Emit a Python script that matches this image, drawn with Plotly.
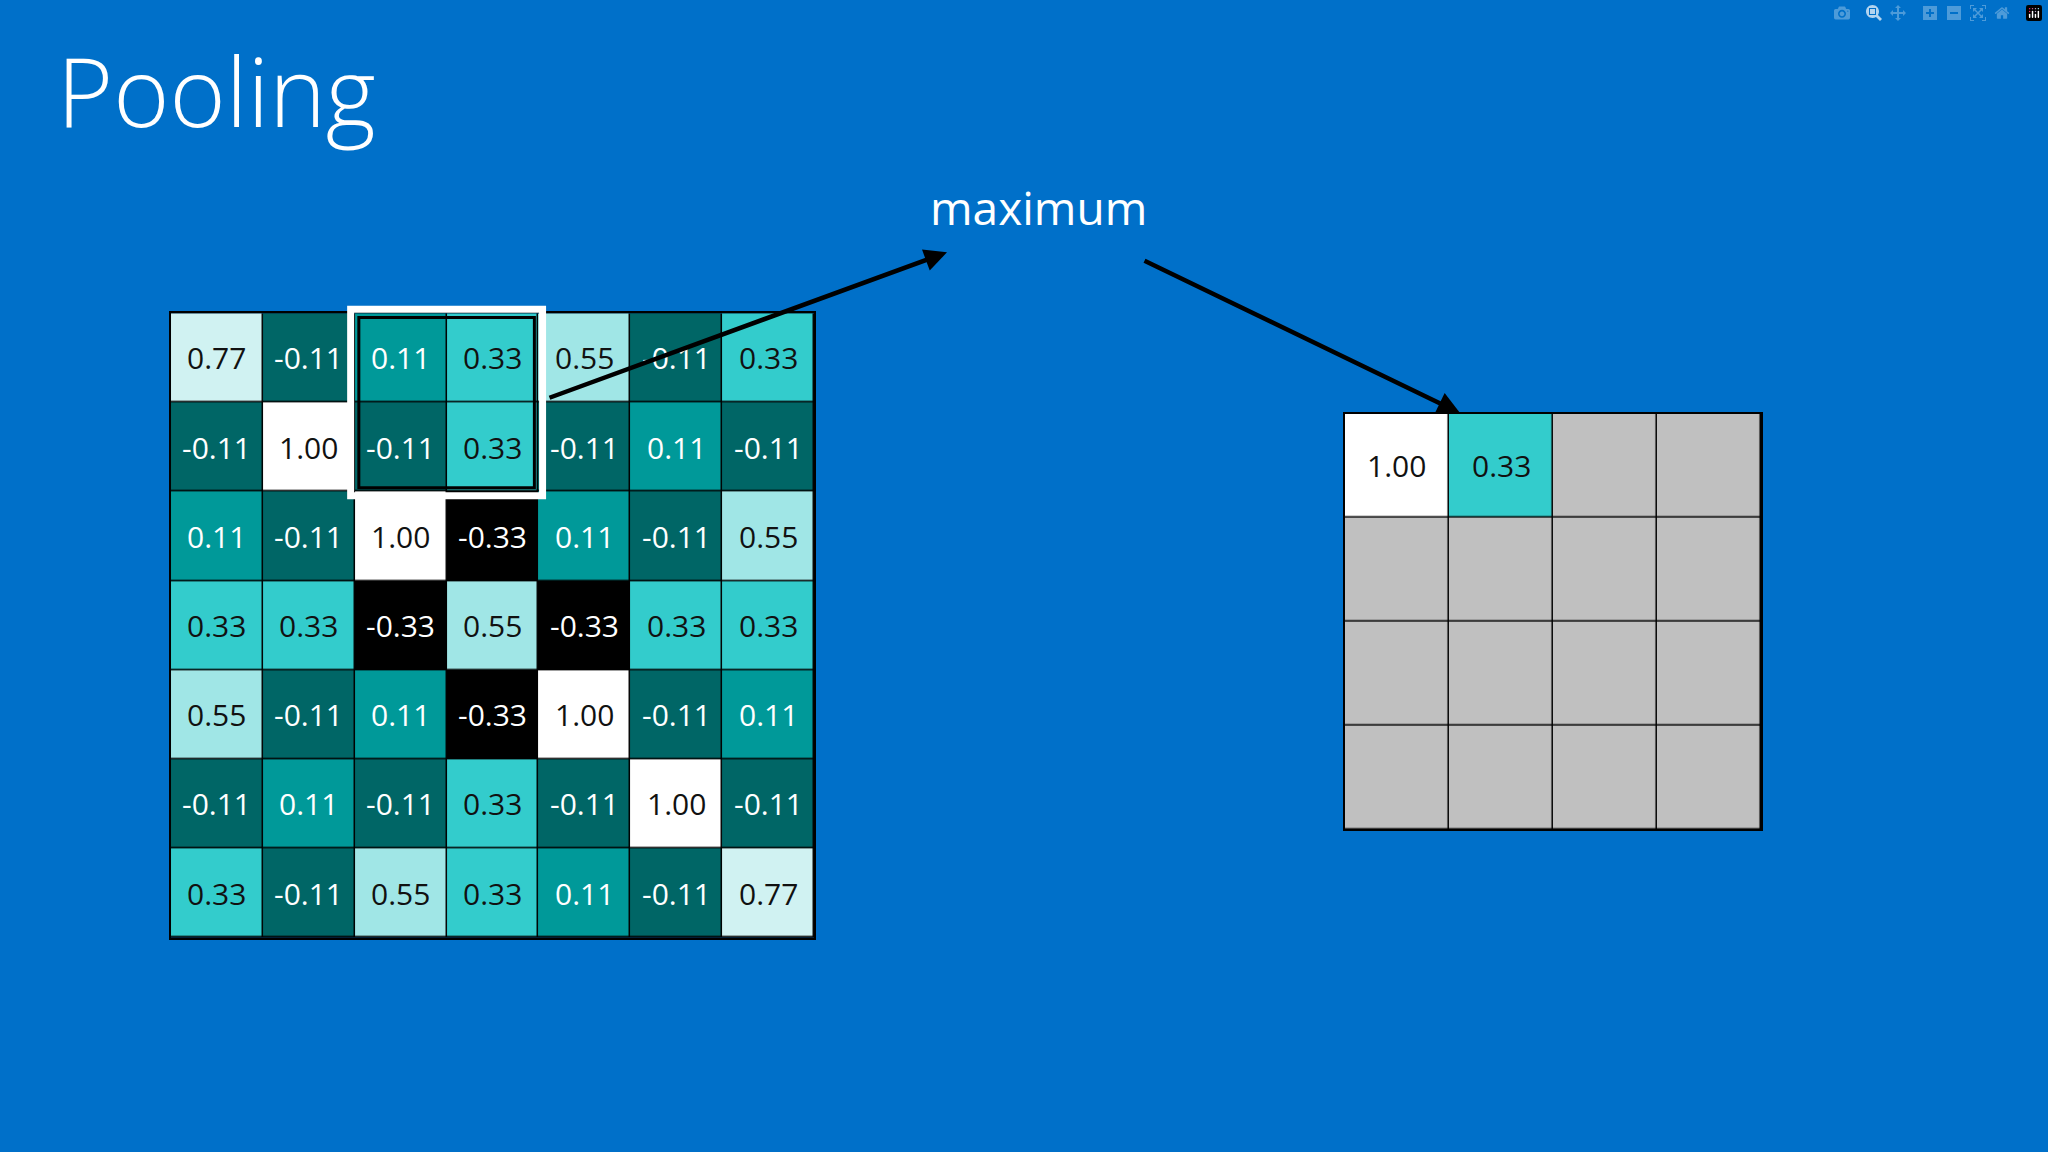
import plotly.graph_objects as go

feature = [
    [0.77, -0.11, 0.11, 0.33, 0.55, -0.11, 0.33],
    [-0.11, 1.00, -0.11, 0.33, -0.11, 0.11, -0.11],
    [0.11, -0.11, 1.00, -0.33, 0.11, -0.11, 0.55],
    [0.33, 0.33, -0.33, 0.55, -0.33, 0.33, 0.33],
    [0.55, -0.11, 0.11, -0.33, 1.00, -0.11, 0.11],
    [-0.11, 0.11, -0.11, 0.33, -0.11, 1.00, -0.11],
    [0.33, -0.11, 0.55, 0.33, 0.11, -0.11, 0.77],
]
pooled = [
    [1.00, 0.33, None, None],
    [None, None, None, None],
    [None, None, None, None],
    [None, None, None, None],
]
levels = [-0.33, -0.11, 0.11, 0.33, 0.55, 0.77, 1.00, None]
colors = ["#000000", "#006666", "#009999", "#33CCCC", "#A0E6E6", "#D0F2F2", "#FFFFFF", "#C0C0C0"]
text_dark = {0.33, 0.55, 0.77, 1.00}

n = len(levels)
cs = []
for i, c in enumerate(colors):
    cs.append([i / n, c]); cs.append([(i + 1) / n, c])

def idx(v):
    return levels.index(v)

def fmt(v):
    return "" if v is None else f"{v:.2f}"

fig = go.Figure()
for grid, xa, ya in [(feature, "x", "y"), (pooled, "x2", "y2")]:
    fig.add_trace(go.Heatmap(z=[[idx(v) for v in r] for r in grid], colorscale=cs, zmin=0, zmax=n,
                             showscale=False, xgap=1.5, ygap=1.5, xaxis=xa, yaxis=ya, hoverinfo="skip"))
    for r, row in enumerate(grid):
        for c, v in enumerate(row):
            if v is None:
                continue
            fig.add_annotation(x=c, y=r, xref=xa, yref=ya, text=fmt(v), showarrow=False,
                               font=dict(size=30, color="#111111" if v in text_dark else "white"))

xdom, ydom = [0.0835, 0.3975], [0.186, 0.728]
ax_common = dict(showgrid=False, zeroline=False, showticklabels=False, ticks="",
                 showline=True, linecolor="black", linewidth=1.5, mirror=True)
fig.update_layout(
    width=2048, height=1152, margin=dict(l=0, r=0, t=0, b=0),
    paper_bgcolor="#0070C9", plot_bgcolor="#000000",
    font=dict(family="Open Sans"),
    xaxis=dict(domain=xdom, range=[-0.5, 6.5], **ax_common),
    yaxis=dict(domain=ydom, range=[6.5, -0.5], **ax_common),
    xaxis2=dict(domain=[0.6567, 0.860], range=[-0.5, 3.5], anchor="y2", **ax_common),
    yaxis2=dict(domain=[0.280, 0.641], range=[3.5, -0.5], anchor="x2", **ax_common),
)

# highlight window (cols 2-3, rows 0-1), converted to paper coords so it is not clipped
def px(xv):
    return xdom[0] + (xv + 0.5) / 7 * (xdom[1] - xdom[0])
def py(yv):
    return ydom[1] - (yv + 0.5) / 7 * (ydom[1] - ydom[0])
fig.add_shape(type="rect", xref="paper", yref="paper", x0=px(1.5) - 0.002, x1=px(3.5) + 0.002,
              y0=py(1.5) - 0.0035, y1=py(-0.5) + 0.0035, line=dict(color="white", width=7))
fig.add_shape(type="rect", xref="paper", yref="paper", x0=px(1.5) + 0.002, x1=px(3.5) - 0.002,
              y0=py(1.5) + 0.0035, y1=py(-0.5) - 0.0035, line=dict(color="black", width=3))

fig.add_annotation(x=0.0267, y=0.922, xref="paper", yref="paper", text="Pooling", showarrow=False,
                   xanchor="left", yanchor="middle", font=dict(size=96, color="white", weight=300))
fig.add_annotation(x=0.507, y=0.82, xref="paper", yref="paper", text="maximum", showarrow=False,
                   yanchor="middle", font=dict(size=46, color="white"))
fig.add_annotation(x=0.4624, y=0.781, xref="paper", yref="paper", ax=-399, ay=146, text="",
                   showarrow=True, arrowhead=2, arrowsize=1, arrowwidth=4.5, arrowcolor="black")
fig.add_annotation(x=0.7129, y=0.6415, xref="paper", yref="paper", ax=-317, ay=-153, text="",
                   showarrow=True, arrowhead=2, arrowsize=1, arrowwidth=4.5, arrowcolor="black")

fig.write_html("out.html", post_script="document.body.style.margin='0';document.body.style.background='#0070C9';")
